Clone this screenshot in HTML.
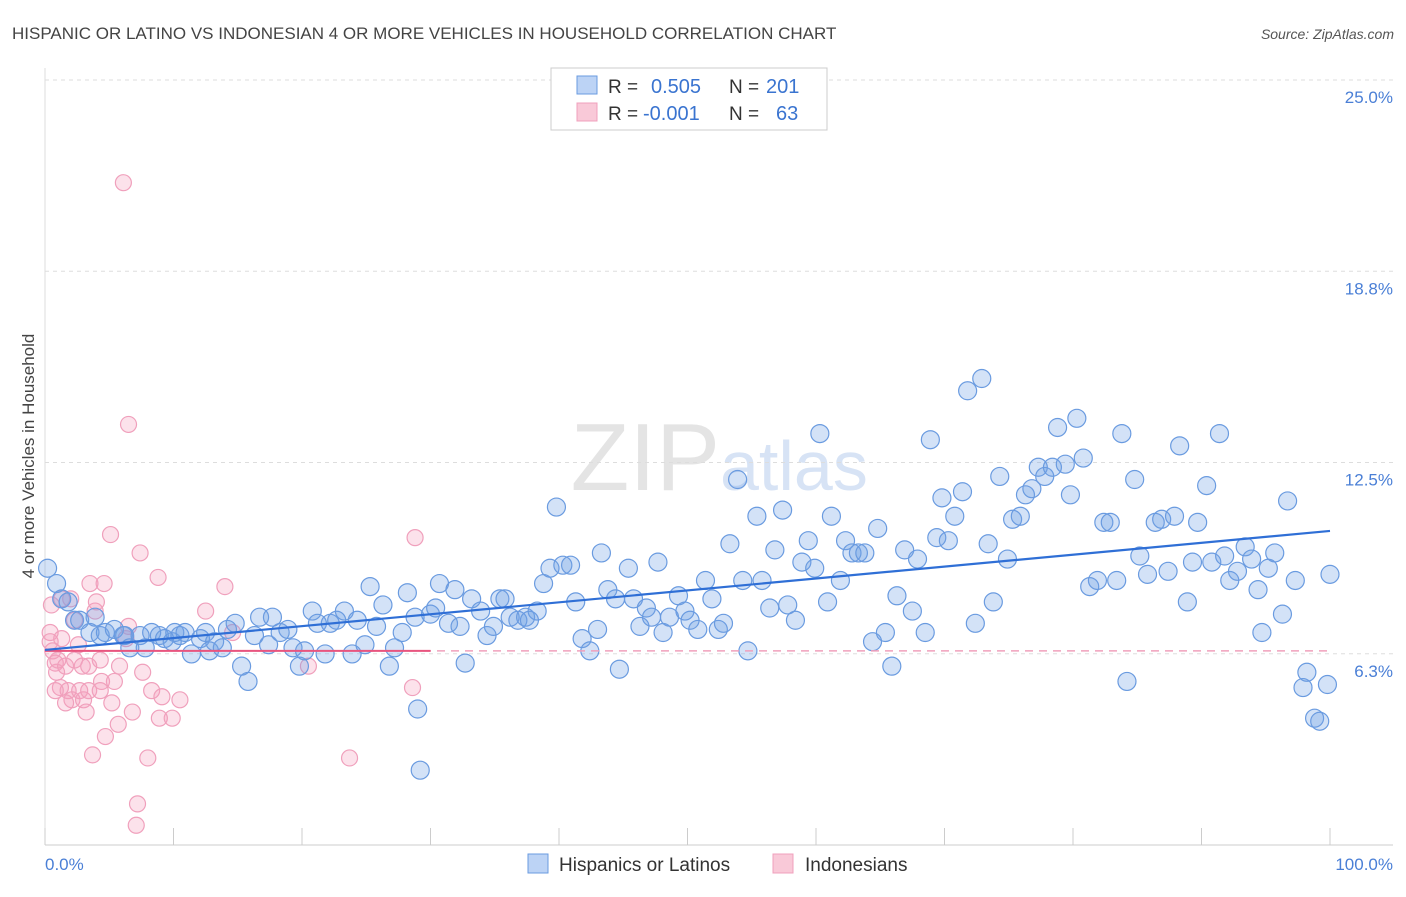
<!DOCTYPE html>
<html><head><meta charset="utf-8"><style>
body{margin:0;background:#fff;font-family:"Liberation Sans",sans-serif}
svg text{font-family:"Liberation Sans",sans-serif}
</style></head><body>
<svg id="chart" width="1406" height="892" xmlns="http://www.w3.org/2000/svg">
<text x="12" y="39" font-size="17" fill="#444">HISPANIC OR LATINO VS INDONESIAN 4 OR MORE VEHICLES IN HOUSEHOLD CORRELATION CHART</text>
<text x="1394" y="39" font-size="14" fill="#555" font-style="italic" text-anchor="end">Source: ZipAtlas.com</text>
<text x="720" y="490" font-size="96" fill="#e4e4e4" text-anchor="end" font-family="Liberation Serif">ZIP</text>
<text x="720" y="490" font-size="70" fill="#d7e3f5">atlas</text>
<g id="grid"></g>
<g id="axes"></g>
<g id="pink"></g>
<g id="blue"></g>
<g id="trends"></g>
<text transform="translate(34,456) rotate(-90)" font-size="17" fill="#444" text-anchor="middle">4 or more Vehicles in Household</text>
<text x="45" y="870" font-size="17" fill="#4a7fd6">0.0%</text>
<text x="1393" y="870" font-size="17" fill="#4a7fd6" text-anchor="end">100.0%</text>
<g>
<rect x="551" y="68" width="276" height="62" fill="#fff" stroke="#ccc"/>
<rect x="577" y="76" width="20" height="18" fill="#bcd3f5" stroke="#6a9be0"/>
<rect x="577" y="103" width="20" height="18" fill="#f9c9d8" stroke="#f0a0bc"/>
<text x="608" y="93" font-size="19" fill="#333">R =</text>
<text x="651" y="93" font-size="20" fill="#3a74d0">0.505</text>
<text x="729" y="93" font-size="19" fill="#333">N =</text>
<text x="766" y="93" font-size="20" fill="#3a74d0">201</text>
<text x="608" y="120" font-size="19" fill="#333">R =</text>
<text x="643" y="120" font-size="20" fill="#3a74d0">-0.001</text>
<text x="729" y="120" font-size="19" fill="#333">N =</text>
<text x="776" y="120" font-size="20" fill="#3a74d0">63</text>
</g>
<g>
<rect x="528" y="854" width="20" height="19" fill="#bcd3f5" stroke="#6a9be0"/>
<text x="559" y="871" font-size="19" fill="#333">Hispanics or Latinos</text></g>
<g>
<rect x="773" y="854" width="20" height="19" fill="#f9c9d8" stroke="#f0a0bc"/>
<text x="805" y="871" font-size="19" fill="#333">Indonesians</text></g>
</svg>
<script>
const yTicks=[6.25,12.5,18.75,25];
const yTickLabels=["6.3%","12.5%","18.8%","25.0%"];
const xTicks=[0,10,20,30,40,50,60,70,80,90,100];
const blueX=[0.2,0.9,1.3,1.8,2.3,2.7,3.5,3.9,4.3,4.7,5.4,6.1,6.2,6.6,7.4,7.8,8.3,8.9,9.3,9.9,10.1,10.5,10.9,11.4,12.1,12.5,12.8,13.2,13.8,14.2,14.8,15.3,15.8,16.3,16.7,17.4,17.7,18.3,18.9,19.3,19.8,20.2,20.8,21.2,21.8,22.2,22.7,23.3,23.9,24.3,24.9,25.3,25.8,26.3,26.8,27.2,27.8,28.2,28.8,29.0,29.2,30.0,30.4,30.7,31.4,31.9,32.3,32.7,33.2,33.9,34.4,34.9,35.4,35.8,36.2,36.8,37.4,37.7,38.3,38.8,39.3,39.8,40.3,40.9,41.3,41.8,42.4,43.0,43.3,43.8,44.4,44.7,45.4,45.8,46.3,46.8,47.2,47.7,48.1,48.6,49.3,49.8,50.2,50.8,51.4,51.9,52.4,52.8,53.3,53.9,54.3,54.7,55.4,55.8,56.4,56.8,57.4,57.8,58.4,58.9,59.4,59.9,60.3,60.9,61.2,61.9,62.3,62.8,63.3,63.8,64.4,64.8,65.4,65.9,66.3,66.9,67.5,67.9,68.5,68.9,69.4,69.8,70.3,70.8,71.4,71.8,72.4,72.9,73.4,73.8,74.3,74.9,75.3,75.9,76.3,76.8,77.3,77.8,78.4,78.8,79.4,79.8,80.3,80.8,81.3,81.9,82.4,82.9,83.4,83.8,84.2,84.8,85.2,85.8,86.4,86.9,87.4,87.9,88.3,88.9,89.3,89.7,90.4,90.8,91.4,91.8,92.2,92.8,93.4,93.9,94.4,94.7,95.2,95.7,96.3,96.7,97.3,97.9,98.2,98.8,99.2,99.8,100.0];
const blueY=[9.6,9.1,8.6,8.5,7.9,7.9,7.5,8.0,7.4,7.5,7.6,7.4,7.4,7.0,7.4,7.0,7.5,7.4,7.3,7.2,7.5,7.4,7.5,6.8,7.3,7.5,6.9,7.2,7.0,7.6,7.8,6.4,5.9,7.4,8.0,7.1,8.0,7.5,7.6,7.0,6.4,6.9,8.2,7.8,6.8,7.8,7.9,8.2,6.8,7.9,7.1,9.0,7.7,8.4,6.4,7.0,7.5,8.8,8.0,5.0,3.0,8.1,8.3,9.1,7.8,8.9,7.7,6.5,8.6,8.2,7.4,7.7,8.6,8.6,8.0,7.9,8.0,7.9,8.2,9.1,9.6,11.6,9.7,9.7,8.5,7.3,6.9,7.6,10.1,8.9,8.6,6.3,9.6,8.6,7.7,8.3,8.0,9.8,7.5,8.0,8.7,8.2,7.9,7.6,9.2,8.6,7.6,7.8,10.4,12.5,9.2,6.9,11.3,9.2,8.3,10.2,11.5,8.4,7.9,9.8,10.5,9.6,14.0,8.5,11.3,9.2,10.5,10.1,10.1,10.1,7.2,10.9,7.5,6.4,8.7,10.2,8.2,9.9,7.5,13.8,10.6,11.9,10.5,11.3,12.1,15.4,7.8,15.8,10.4,8.5,12.6,9.9,11.2,11.3,12.0,12.2,12.9,12.6,12.9,14.2,13.0,12.0,14.5,13.2,9.0,9.2,11.1,11.1,9.2,14.0,5.9,12.5,10.0,9.4,11.1,11.2,9.5,11.3,13.6,8.5,9.8,11.1,12.3,9.8,14.0,10.0,9.2,9.5,10.3,9.9,8.9,7.5,9.6,10.1,8.1,11.8,9.2,5.7,6.2,4.7,4.6,5.8,9.4];
const pinkX=[0.4,0.5,0.4,0.6,0.8,0.9,1.2,1.0,1.3,1.6,1.8,2.0,2.1,2.3,2.6,2.7,2.9,3.0,3.2,3.4,3.5,3.7,3.9,4.0,4.3,4.4,4.6,4.7,5.1,5.2,5.4,5.7,5.8,6.1,6.3,6.5,6.5,6.8,7.2,7.1,7.4,7.6,8.0,8.3,8.8,8.9,9.1,9.9,10.5,12.5,14.0,14.6,20.5,23.7,28.6,28.8,0.8,1.6,2.3,3.4,4.3,1.3];
const pinkY=[7.5,8.4,7.2,6.9,6.5,6.2,5.7,6.6,7.3,6.4,5.6,8.6,5.3,7.9,7.1,5.6,6.4,5.3,4.9,5.6,9.1,3.5,8.2,8.5,6.6,5.9,9.1,4.1,10.7,5.2,5.9,4.5,6.4,22.2,7.3,7.7,14.3,4.9,1.9,1.2,10.1,6.2,3.4,5.6,9.3,4.7,5.4,4.7,5.3,8.2,9.0,7.5,6.4,3.4,5.7,10.6,5.6,5.2,6.6,6.4,5.6,8.6];
const blueTrend=[6.93,10.82];
const pinkTrend=[6.9,6.9];
const pinkTrendSolidEnd=30;
const NS="http://www.w3.org/2000/svg";
const X0=45,X1=1330;
function xs(v){return X0+(X1-X0)*v/100;}
function ys(v){return 862-30.6*v;}
function mk(tag,attrs,parent){const e=document.createElementNS(NS,tag);for(const k in attrs)e.setAttribute(k,attrs[k]);parent.appendChild(e);return e;}
const grid=document.getElementById('grid');
yTicks.forEach((t,i)=>{
 const gy=ys(t)-17;
 const l=mk('line',{x1:45,x2:1393,y1:gy,y2:gy,stroke:'#ddd','stroke-dasharray':'4,4'},grid);
 
 
 const tx=mk('text',{x:1393,y:ys(t)+6,'font-size':17,fill:'#4a7fd6','text-anchor':'end'},grid);
 tx.textContent=yTickLabels[i];
 
 
});
const axes=document.getElementById('axes');
const ax=mk('line',{x1:45,x2:1393,y1:845,y2:845,stroke:'#ccc'},axes);


const ay=mk('line',{x1:45,x2:45,y1:68,y2:845,stroke:'#ddd'},axes);


xTicks.forEach(t=>{
 const l=mk('line',{x1:xs(t),x2:xs(t),y1:828,y2:845,stroke:'#ccc'},axes);
 
 
});
const pg=document.getElementById('pink');
pinkX.forEach((x,i)=>{
 const c=mk('circle',{cx:xs(x),cy:ys(pinkY[i]),r:8,fill:'rgba(244,160,190,0.3)',stroke:'#f0a0bc','stroke-width':1.2},pg);
 
 
});
const bg=document.getElementById('blue');
blueX.forEach((x,i)=>{
 const c=mk('circle',{cx:xs(x),cy:ys(blueY[i]),r:9,fill:'rgba(110,160,230,0.3)',stroke:'#6a9be0','stroke-width':1.2},bg);
 
 
});
const tg=document.getElementById('trends');
const pd=mk('line',{x1:xs(0),x2:xs(100),y1:ys(pinkTrend[0]),y2:ys(pinkTrend[1]),stroke:'#f0a0bc','stroke-width':1.5,'stroke-dasharray':'8,6'},tg);


const ps=mk('line',{x1:xs(0),x2:xs(pinkTrendSolidEnd),y1:ys(pinkTrend[0]),y2:ys(pinkTrend[0]+(pinkTrend[1]-pinkTrend[0])*pinkTrendSolidEnd/100),stroke:'#e8557f','stroke-width':2},tg);


const bt=mk('line',{x1:xs(0),x2:xs(100),y1:ys(blueTrend[0]),y2:ys(blueTrend[1]),stroke:'#2f6fd6','stroke-width':2.2},tg);


</script>
</body></html>
